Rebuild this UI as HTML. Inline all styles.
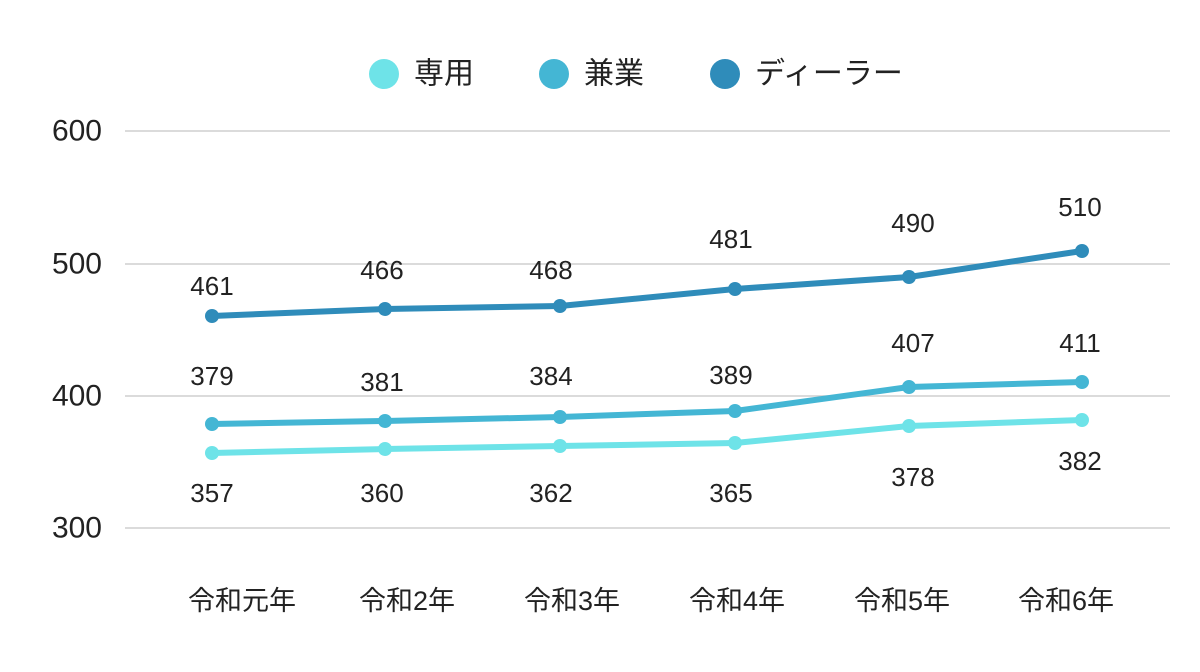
<!DOCTYPE html><html><head><meta charset="utf-8"><style>body{margin:0;background:#fff}svg{display:block}text{font-family:"Liberation Sans","Noto Sans CJK JP",sans-serif;fill:#222}</style></head><body>
<svg width="1200" height="672" viewBox="0 0 1200 672">
<g stroke="#cfcfcf" stroke-width="1.5">
<line x1="125" x2="1170" y1="131" y2="131"/><line x1="125" x2="1170" y1="264" y2="264"/><line x1="125" x2="1170" y1="396" y2="396"/><line x1="125" x2="1170" y1="528" y2="528"/></g>
<g font-size="30" text-anchor="end" dominant-baseline="central">
<text x="102" y="131">600</text><text x="102" y="264">500</text><text x="102" y="396">400</text><text x="102" y="528">300</text></g>
<g font-size="27" text-anchor="middle" dominant-baseline="central">
<text x="242" y="601">令和元年</text><text x="407" y="601">令和2年</text><text x="572" y="601">令和3年</text><text x="737" y="601">令和4年</text><text x="902" y="601">令和5年</text><text x="1066" y="601">令和6年</text></g>
<g fill="none" stroke-width="6" stroke-linejoin="round" stroke-linecap="round">
<polyline stroke="#6ee3e8" points="212,453 385,449 560,446 735,443 909,426 1082,420"/>
<polyline stroke="#44b6d4" points="212,424 385,421 560,417 735,411 909,387 1082,382"/>
<polyline stroke="#2f8cba" points="212,316 385,309 560,306 735,289 909,277 1082,251"/></g>
<g fill="#6ee3e8"><circle cx="212" cy="453" r="7"/><circle cx="385" cy="449" r="7"/><circle cx="560" cy="446" r="7"/><circle cx="735" cy="443" r="7"/><circle cx="909" cy="426" r="7"/><circle cx="1082" cy="420" r="7"/></g>
<g fill="#44b6d4"><circle cx="212" cy="424" r="7"/><circle cx="385" cy="421" r="7"/><circle cx="560" cy="417" r="7"/><circle cx="735" cy="411" r="7"/><circle cx="909" cy="387" r="7"/><circle cx="1082" cy="382" r="7"/></g>
<g fill="#2f8cba"><circle cx="212" cy="316" r="7"/><circle cx="385" cy="309" r="7"/><circle cx="560" cy="306" r="7"/><circle cx="735" cy="289" r="7"/><circle cx="909" cy="277" r="7"/><circle cx="1082" cy="251" r="7"/></g>
<g font-size="26" text-anchor="middle" dominant-baseline="central">
<text x="212" y="286">461</text><text x="382" y="270">466</text><text x="551" y="270">468</text><text x="731" y="239">481</text><text x="913" y="223">490</text><text x="1080" y="207">510</text>
<text x="212" y="376">379</text><text x="382" y="382">381</text><text x="551" y="376">384</text><text x="731" y="375">389</text><text x="913" y="343">407</text><text x="1080" y="343">411</text>
<text x="212" y="493">357</text><text x="382" y="493">360</text><text x="551" y="493">362</text><text x="731" y="493">365</text><text x="913" y="477">378</text><text x="1080" y="461">382</text></g>
<g font-size="30" dominant-baseline="central">
<circle cx="384" cy="74" r="15" fill="#6ee3e8"/><text x="414" y="74">専用</text>
<circle cx="554" cy="74" r="15" fill="#44b6d4"/><text x="584" y="74">兼業</text>
<circle cx="725" cy="74" r="15" fill="#2f8cba"/><text x="755" y="74">ディーラー</text></g>
</svg></body></html>
